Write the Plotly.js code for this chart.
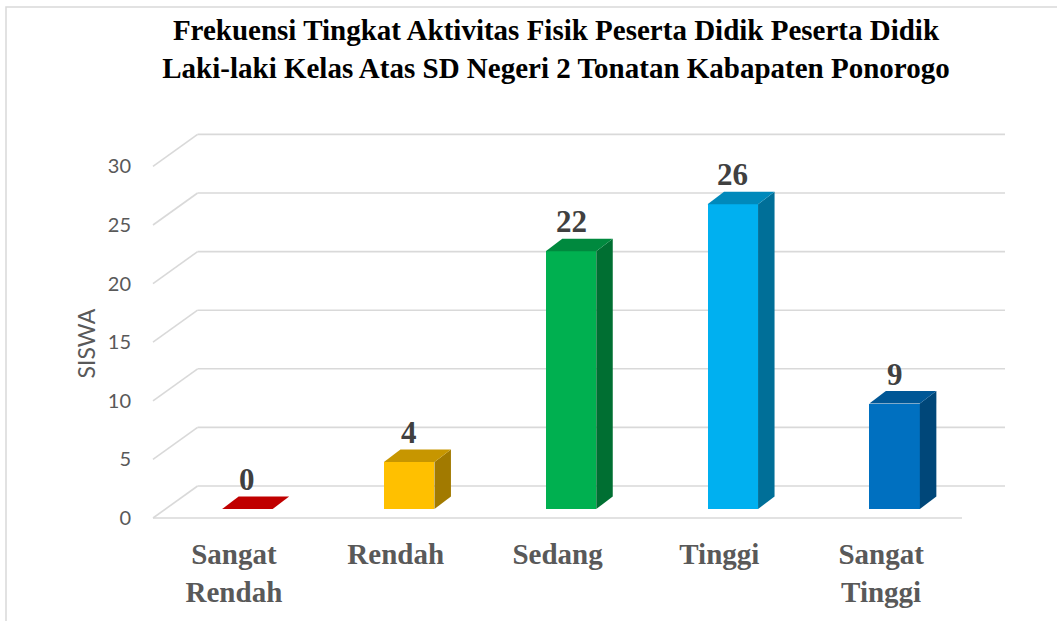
<!DOCTYPE html>
<html>
<head>
<meta charset="utf-8">
<script src="https://cdn.plot.ly/plotly-3.0.1.min.js"></script>
<style>html,body{margin:0;padding:0;background:#fff;}#chart{width:1057px;height:621px;}</style>
</head>
<body>
<div id="chart"></div>
<script>
// ---- data ----
const categories = ['Sangat<br>Rendah', 'Rendah', 'Sedang', 'Tinggi', 'Sangat<br>Tinggi'];
const values = [0, 4, 22, 26, 9];
const yTicks = [0, 5, 10, 15, 20, 25, 30];
const titleText = 'Frekuensi Tingkat Aktivitas Fisik Peserta Didik Peserta Didik<br>Laki-laki Kelas Atas SD Negeri 2 Tonatan Kabapaten Ponorogo';
const yTitle = 'SISWA';

// ---- styles ----
const frontColors = ['#C00000', '#FFC000', '#00B050', '#00B0F0', '#0070C0'];
const topColors   = ['#C00000', '#C79600', '#00893E', '#0089BB', '#005796'];
const sideColors  = ['#8F0000', '#A27A00', '#006F32', '#006F98', '#004779'];

// ---- geometry (pixel layout of the pseudo-3D frame) ----
const W = 1057, H = 621;
const PL = 146, PR = 1012, PT = 110, PB = 526;      // plot area in px
const FLOOR_L = 153, FLOOR_Y = 518;                 // front-left corner of floor
const KX = 161.8, KY = 11.72;                       // px per category / px per unit
const xRange = [-0.5 - (FLOOR_L - PL) / KX, -0.5 + (PR - FLOOR_L) / KX];
const yRange = [-(PB - FLOOR_Y) / KY, (FLOOR_Y - PT) / KY];
const DEPTH_X = 44.6 / KX, DEPTH_Y = 32 / KY;       // floor depth
const GRID_END = (1005 - FLOOR_L) / KX - 0.5;
const FX = 13.5 / KX, FY = 9 / KY;                  // bar front-face offset
const BW = 50.5 / KX;                               // bar width
const DX = 16.5 / KX, DY = 12.5 / KY;               // bar depth

const gridColor = '#D9D9D9';
const shapes = [];
yTicks.forEach(v => {
  shapes.push({type: 'line', xref: 'x', yref: 'y', layer: 'below',
    x0: -0.5, y0: v, x1: -0.5 + DEPTH_X, y1: v + DEPTH_Y,
    line: {color: gridColor, width: 1.6}});
  shapes.push({type: 'line', xref: 'x', yref: 'y', layer: 'below',
    x0: -0.5 + DEPTH_X, y0: v + DEPTH_Y, x1: GRID_END, y1: v + DEPTH_Y,
    line: {color: gridColor, width: 1.6}});
});
shapes.push({type: 'line', xref: 'x', yref: 'y', layer: 'below',
  x0: -0.5, y0: 0, x1: categories.length - 0.5, y1: 0,
  line: {color: gridColor, width: 1.6}});
// chart border
shapes.push({type: 'rect', xref: 'paper', yref: 'paper', layer: 'below',
  x0: (6 - PL) / (PR - PL), x1: (W + 40 - PL) / (PR - PL),
  y0: (PB - (H + 40)) / (PB - PT), y1: (PB - 7) / (PB - PT),
  line: {color: gridColor, width: 1.5}, fillcolor: 'rgba(0,0,0,0)'});

const xs = categories.map((c, i) => i);
const traces = [];
// front faces
traces.push({
  type: 'bar', x: xs.map(i => i + FX), y: values, base: values.map(() => FY),
  width: BW, marker: {color: frontColors, line: {width: 0}},
  hoverinfo: 'skip', showlegend: false
});
// side and top faces
values.forEach((v, i) => {
  const xl = i + FX - BW / 2, xr = i + FX + BW / 2, b = FY, t = FY + v;
  if (v > 0) {
    traces.push({type: 'scatter', mode: 'lines', fill: 'toself',
      x: [xr, xr + DX, xr + DX, xr, xr], y: [b, b + DY, t + DY, t, b],
      fillcolor: sideColors[i], line: {width: 0, color: sideColors[i]},
      hoverinfo: 'skip', showlegend: false});
  }
  traces.push({type: 'scatter', mode: 'lines', fill: 'toself',
    x: [xl, xl + DX, xr + DX, xr, xl], y: [t, t + DY, t + DY, t, t],
    fillcolor: topColors[i], line: {width: 0, color: topColors[i]},
    hoverinfo: 'skip', showlegend: false});
});

const annotations = values.map((v, i) => ({
  x: i + FX, y: FY + v, xref: 'x', yref: 'y', text: String(v),
  showarrow: false, yanchor: 'bottom', xanchor: 'center', yshift: 10,
  font: {family: 'Liberation Serif', size: 31, color: '#404040', weight: 'bold'}
}));
annotations.push({
  text: yTitle, textangle: -90, showarrow: false,
  xref: 'paper', yref: 'paper',
  x: (85 - PL) / (PR - PL), y: (PB - 343.5) / (PB - PT),
  xanchor: 'center', yanchor: 'middle',
  font: {family: 'Lato', size: 23, color: '#595959'}
});

const layout = {
  width: W, height: H,
  margin: {l: PL, r: W - PR, t: PT, b: H - PB, pad: 0},
  paper_bgcolor: '#FFFFFF', plot_bgcolor: 'rgba(0,0,0,0)',
  title: {
    text: titleText, xref: 'container', yref: 'container',
    x: 0.526, xanchor: 'center', y: 1 - 40 / H, yanchor: 'top',
    font: {family: 'Liberation Serif', size: 29, color: '#000000', weight: 'bold'}
  },
  xaxis: {
    range: xRange, tickmode: 'array', tickvals: xs, ticktext: categories,
    showgrid: false, zeroline: false, showline: false,
    ticks: 'outside', ticklen: 2, tickcolor: 'rgba(0,0,0,0)',
    tickfont: {family: 'Liberation Serif', size: 29, color: '#595959', weight: 'bold'},
    fixedrange: true
  },
  yaxis: {
    range: yRange, tickmode: 'array', tickvals: yTicks,
    showgrid: false, zeroline: false, showline: false,
    ticks: 'outside', ticklen: 10, tickcolor: 'rgba(0,0,0,0)',
    tickfont: {family: 'Lato', size: 20, color: '#595959'},
    fixedrange: true
  },
  shapes: shapes,
  annotations: annotations,
  bargap: 0
};

Plotly.newPlot('chart', traces, layout, {displayModeBar: false, staticPlot: true});
</script>
</body>
</html>
